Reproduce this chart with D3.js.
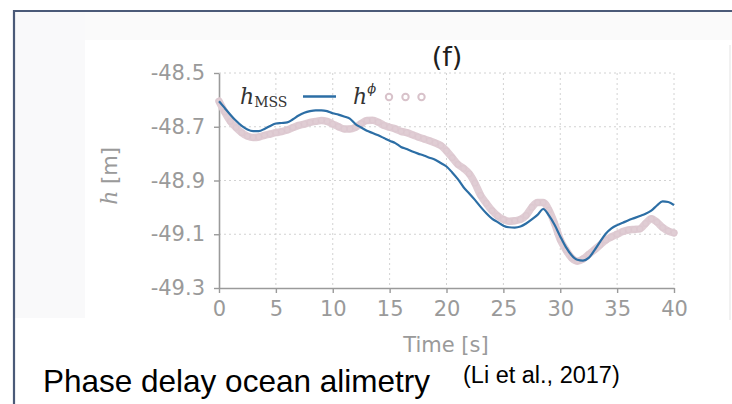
<!DOCTYPE html>
<html>
<head>
<meta charset="utf-8">
<script src="https://cdn.jsdelivr.net/npm/d3@7/dist/d3.min.js"></script>
<style>
  html, body { margin: 0; padding: 0; background: #fff; }
  svg { display: block; }
</style>
</head>
<body>
<svg id="chart" width="732" height="404"></svg>
<script>
// Time axis samples [s]
const times = [
  0, 0.5, 1, 1.5, 2, 2.5, 3, 3.5, 4, 4.5, 5, 5.5, 6, 6.5, 7, 7.5, 8, 8.5, 9, 9.5,
  10, 10.5, 11, 11.5, 12, 12.5, 13, 13.5, 14, 14.5, 15, 15.5, 16, 16.5, 17, 17.5, 18, 18.5, 19, 19.5,
  20, 20.5, 21, 21.5, 22, 22.5, 23, 23.5, 24, 24.5, 25, 25.5, 26, 26.5, 27, 27.5, 28, 28.5, 29, 29.5,
  30, 30.5, 31, 31.5, 32, 32.5, 33, 33.5, 34, 34.5, 35, 35.5, 36, 36.5, 37, 37.5, 38, 38.5, 39, 39.5, 40
];

// Mean sea surface height h_MSS [m]
const hMSS = [
  -48.605, -48.630, -48.655, -48.678, -48.697, -48.710, -48.716, -48.716, -48.708, -48.697,
  -48.688, -48.686, -48.684, -48.672, -48.658, -48.648, -48.642, -48.639, -48.639, -48.642,
  -48.650, -48.655, -48.662, -48.670, -48.690, -48.703, -48.715, -48.723, -48.732, -48.742,
  -48.752, -48.761, -48.775, -48.783, -48.792, -48.800, -48.807, -48.815, -48.823, -48.835,
  -48.848, -48.870, -48.895, -48.925, -48.948, -48.972, -48.998, -49.022, -49.042, -49.055,
  -49.068, -49.074, -49.075, -49.071, -49.060, -49.045, -49.028, -49.006, -49.030, -49.065,
  -49.108, -49.148, -49.178, -49.195, -49.198, -49.188, -49.160, -49.128, -49.098, -49.078,
  -49.066, -49.057, -49.048, -49.040, -49.032, -49.024, -49.012, -48.993, -48.978, -48.980,
  -48.992
];

// Phase-delay altimetry height h^phi [m]
const hPhi = [
  -48.605, -48.645, -48.680, -48.703, -48.722, -48.735, -48.740, -48.738, -48.732, -48.727,
  -48.722, -48.718, -48.712, -48.703, -48.695, -48.690, -48.684, -48.680, -48.677, -48.680,
  -48.690, -48.700, -48.708, -48.708, -48.702, -48.688, -48.677, -48.676, -48.683, -48.695,
  -48.702, -48.708, -48.717, -48.722, -48.730, -48.738, -48.745, -48.752, -48.760, -48.770,
  -48.790, -48.815, -48.840, -48.855, -48.875, -48.910, -48.955, -48.985, -49.012, -49.032,
  -49.045, -49.052, -49.050, -49.045, -49.030, -49.000, -48.982, -48.982, -49.010, -49.060,
  -49.120, -49.158, -49.188, -49.200, -49.192, -49.175, -49.158, -49.140, -49.122, -49.110,
  -49.100, -49.090, -49.084, -49.082, -49.080, -49.060, -49.042, -49.055, -49.075, -49.088,
  -49.095
];

const xTicks = [0, 5, 10, 15, 20, 25, 30, 35, 40];
const yTicks = [-48.5, -48.7, -48.9, -49.1, -49.3];
const yTickLabels = ["-48.5", "-48.7", "-48.9", "-49.1", "-49.3"];

const svg = d3.select("#chart");

// Slide frame and faint backdrop
svg.append("rect").attr("x", 15).attr("y", 12).attr("width", 70).attr("height", 306).attr("fill", "#f9f9fa");
svg.append("rect").attr("x", 85).attr("y", 12).attr("width", 647).attr("height", 28).attr("fill", "#fafafa");
svg.append("line").attr("x1", 730).attr("x2", 730).attr("y1", 45).attr("y2", 320)
  .attr("stroke", "#ececec").attr("stroke-width", 1.5);
svg.append("line").attr("x1", 14).attr("x2", 732).attr("y1", 11).attr("y2", 11)
  .attr("stroke", "#4b5a78").attr("stroke-width", 2.2);
svg.append("line").attr("x1", 14).attr("x2", 14).attr("y1", 10).attr("y2", 404)
  .attr("stroke", "#4b5a78").attr("stroke-width", 2.2);

const x = d3.scaleLinear().domain([0, 40]).range([219, 674]);
const y = d3.scaleLinear().domain([-49.3, -48.5]).range([288, 73]);

// Dotted grid
const grid = svg.append("g").attr("stroke", "#d2d2d2").attr("stroke-width", 1).attr("stroke-dasharray", "2,3");
grid.selectAll("line.v").data(xTicks.slice(1)).join("line")
  .attr("x1", d => x(d)).attr("x2", d => x(d)).attr("y1", y(-48.5)).attr("y2", y(-49.3));
grid.selectAll("line.h").data(yTicks.slice(0, -1)).join("line")
  .attr("x1", x(0)).attr("x2", x(40)).attr("y1", d => y(d)).attr("y2", d => y(d));

// Axes
const axisColor = "#9a9a9a";
const yAxis = svg.append("g").attr("transform", `translate(${x(0)},0)`)
  .call(d3.axisLeft(y).tickValues(yTicks).tickSizeInner(5).tickSizeOuter(0).tickPadding(9)
    .tickFormat((d, i) => yTickLabels[i]));
const xAxis = svg.append("g").attr("transform", `translate(0,${y(-49.3)})`)
  .call(d3.axisBottom(x).tickValues(xTicks).tickSizeInner(5).tickSizeOuter(0).tickPadding(8));
[xAxis, yAxis].forEach(g => {
  g.select(".domain").attr("stroke", axisColor).attr("stroke-width", 1.6);
  g.selectAll(".tick line").attr("stroke", axisColor).attr("stroke-width", 1.4);
  g.selectAll(".tick text").attr("fill", axisColor)
    .style("font-family", "'DejaVu Sans', sans-serif").style("font-size", "21px");
});

// Series
const line = d3.line().x((d, i) => x(times[i])).y(d => y(d)).curve(d3.curveMonotoneX);
svg.append("path").datum(hPhi).attr("d", line)
  .attr("fill", "none").attr("stroke", "#e0cdd4").attr("stroke-width", 7.5)
  .attr("stroke-linejoin", "round").attr("stroke-linecap", "round");
svg.append("g").selectAll("circle").data(hPhi).join("circle")
  .attr("cx", (d, i) => x(times[i])).attr("cy", d => y(d)).attr("r", 2.8)
  .attr("fill", "none").attr("stroke", "#d9c3cb").attr("stroke-width", 1.2).attr("opacity", 0.45);
svg.append("path").datum(hMSS).attr("d", line)
  .attr("fill", "none").attr("stroke", "#2c6ea5").attr("stroke-width", 2.2)
  .attr("stroke-linejoin", "round");

// Title
svg.append("text").attr("x", 447).attr("y", 66).attr("text-anchor", "middle")
  .style("font-family", "'DejaVu Sans', sans-serif").style("font-size", "27px").attr("fill", "#1e1e1e")
  .text("(f)");

// Legend
const lg = svg.append("g");
const t1 = lg.append("text").attr("x", 240).attr("y", 104).attr("fill", "#333");
t1.append("tspan").style("font-family", "'DejaVu Serif', serif").style("font-style", "italic").style("font-size", "22px").text("h");
t1.append("tspan").attr("dy", 3).style("font-family", "'DejaVu Serif', serif").style("font-size", "14px").text("MSS");
lg.append("line").attr("x1", 303).attr("x2", 336).attr("y1", 96.5).attr("y2", 96.5)
  .attr("stroke", "#2c6ea5").attr("stroke-width", 2.6);
const t2 = lg.append("text").attr("x", 353).attr("y", 104).attr("fill", "#333");
t2.append("tspan").style("font-family", "'DejaVu Serif', serif").style("font-style", "italic").style("font-size", "22px").text("h");
t2.append("tspan").attr("dy", -11).style("font-family", "'DejaVu Serif', serif").style("font-style", "italic").style("font-size", "13px").text("ϕ");
lg.selectAll("circle").data([389, 405.5, 421.5]).join("circle")
  .attr("cx", d => d).attr("cy", 97).attr("r", 3.2)
  .attr("fill", "#fff").attr("stroke", "#d8c2ca").attr("stroke-width", 2);

// Axis titles
const yl = svg.append("text").attr("transform", "translate(117,176) rotate(-90)")
  .attr("text-anchor", "middle").attr("fill", axisColor);
yl.append("tspan").style("font-family", "'DejaVu Serif', serif").style("font-style", "italic").style("font-size", "22px").text("h");
yl.append("tspan").style("font-family", "'DejaVu Sans', sans-serif").style("font-size", "21px").text(" [m]");
svg.append("text").attr("x", 446).attr("y", 352).attr("text-anchor", "middle").attr("fill", axisColor)
  .style("font-family", "'DejaVu Sans', sans-serif").style("font-size", "21px")
  .text("Time [s]");

// Caption
svg.append("text").attr("x", 43).attr("y", 392).attr("fill", "#000")
  .style("font-family", "'Liberation Sans', Arial, sans-serif").style("font-size", "31.5px")
  .text("Phase delay ocean alimetry");
svg.append("text").attr("x", 463).attr("y", 383).attr("fill", "#000")
  .style("font-family", "'Liberation Sans', Arial, sans-serif").style("font-size", "23.5px")
  .text("(Li et al., 2017)");
</script>
</body>
</html>
